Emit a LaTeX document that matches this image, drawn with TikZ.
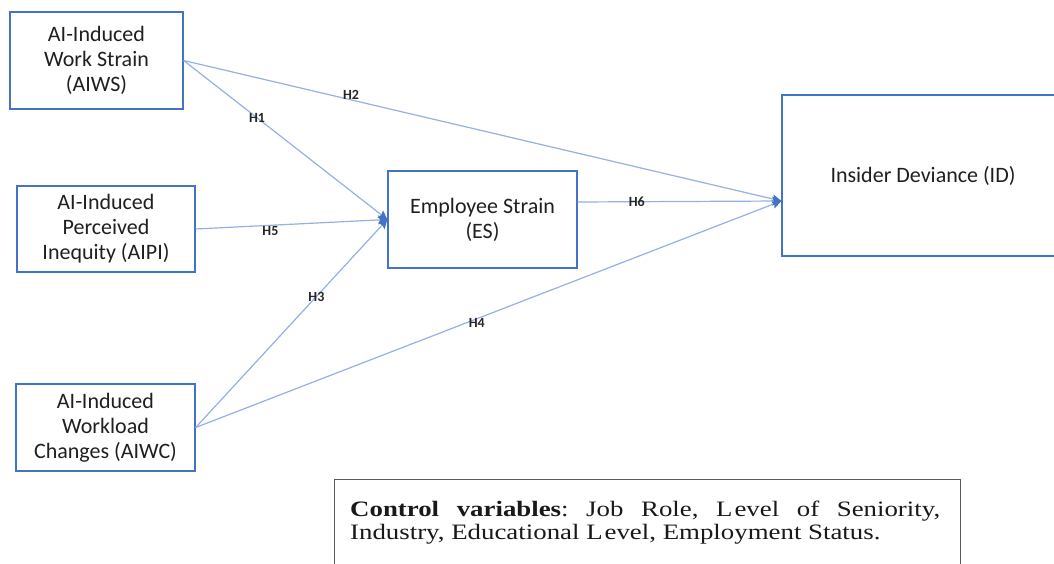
\documentclass[tikz,border=0pt]{standalone}
\usepackage{fontspec}
\setmainfont{Carlito}
\newfontfamily\serifctrl[FakeStretch=1.22]{Liberation Serif}
\usetikzlibrary{arrows.meta,calc}
\definecolor{boxblue}{RGB}{68,114,196}
\definecolor{linkblue}{RGB}{150,176,224}
\definecolor{framegrey}{RGB}{90,90,90}

\begin{document}
\begin{tikzpicture}[x=1pt,y=-1pt,
  construct/.style={draw=boxblue, line width=1.3pt, inner sep=0pt, align=center,
    font=\fontsize{22}{25}\selectfont, text=black!88},
  link/.style={draw=linkblue, line width=1.2pt,
    -{Stealth[length=9pt,width=9pt,inset=1.5pt,color=boxblue]}},
  hyp/.style={font=\fontsize{14}{14}\selectfont\bfseries, inner sep=1pt, text=black!85}]
\useasboundingbox (0,0) rectangle (1054,564);

% constructs
\node[construct, minimum width=173pt, minimum height=97pt] (aiws) at (96.5,60.5)
  {AI-Induced\\Work Strain\\(AIWS)};
\node[construct, minimum width=178pt, minimum height=86pt] (aipi) at (106,229)
  {AI-Induced\\Perceived\\Inequity (AIPI)};
\node[construct, minimum width=179pt, minimum height=87pt] (aiwc) at (105.5,427.5)
  {AI-Induced\\Workload\\Changes (AIWC)};
\node[construct, minimum width=189pt, minimum height=97pt] (es) at (482.5,219.5)
  {Employee Strain\\(ES)};
\node[construct, minimum width=282pt, minimum height=161pt] (id) at (923,175.5)
  {\raisebox{-3pt}{Insider Deviance (ID)}};

% connection points
\coordinate (idin) at ([yshift=-25.5pt]id.west);
\coordinate (esout) at ([yshift=17.5pt]es.east);

% hypothesised paths
\draw[link] (aiws.east) -- node[hyp,pos=0.36]{H1} (es.west);
\draw[link] (aiws.east) -- node[hyp,pos=0.28,yshift=5pt]{H2} (idin);
\draw[link] (aipi.east) -- node[hyp,pos=0.39,yshift=-6pt]{H5} (es.west);
\draw[link] (aiwc.east) -- node[hyp,pos=0.63]{H3} (es.west);
\draw[link] (aiwc.east) -- node[hyp,pos=0.48,yshift=-4pt]{H4} (idin);
\draw[link] (esout) -- node[hyp,pos=0.29]{H6} (idin);

% control variables
\node[draw=framegrey, line width=1pt, minimum width=626pt, minimum height=120pt,
  anchor=north west, inner sep=0pt] (ctrl) at (334,479) {};
\node[text width=590pt, align=justify, inner sep=0pt, anchor=north west,
  font=\serifctrl\fontsize{22}{23}\selectfont\frenchspacing, text=black!90] (ctrltext) at (350,501)
  {\textbf{Control variables}: Job Role, L\kern2pt evel of Seniority,\linebreak
   Industry, Educational L\kern2pt evel, Employment Status.};
\end{tikzpicture}
\end{document}
